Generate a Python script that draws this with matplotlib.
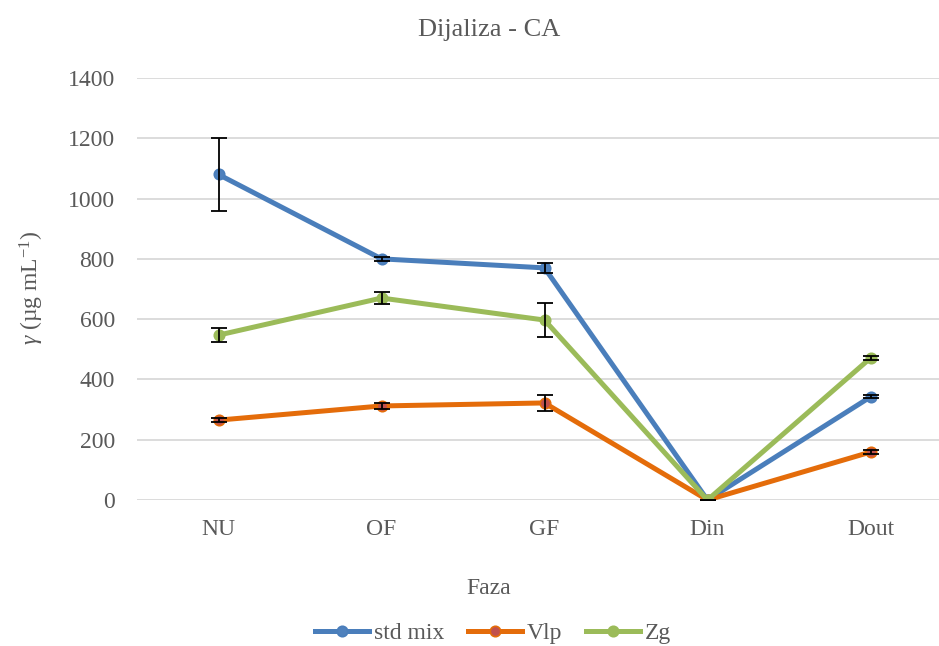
import matplotlib.pyplot as plt

plt.rcParams['font.family'] = 'serif'
plt.rcParams['font.serif'] = ['Liberation Serif', 'Times New Roman', 'DejaVu Serif']
plt.rcParams['mathtext.fontset'] = 'custom'
plt.rcParams['mathtext.rm'] = 'Liberation Serif'
plt.rcParams['mathtext.it'] = 'Liberation Serif:italic'

# Data: concentration per phase, with error bar half-widths
phases = ["NU", "OF", "GF", "Din", "Dout"]
std_mix = [1080, 800, 770, 0, 342]
std_mix_err = [122, 6, 17, 1, 5]
vlp = [265, 312, 322, 0, 159]
vlp_err = [6, 9, 28, 1, 6]
zg = [547, 670, 597, 0, 471]
zg_err = [23, 20, 57, 1, 8]

series = [
    ("std mix", std_mix, std_mix_err, "#4A7EBB", "#4F81BD"),
    ("Vlp", vlp, vlp_err, "#E46C0A", "#C0504D"),
    ("Zg", zg, zg_err, "#9BBB59", "#9BBB59"),
]

text_color = "#595959"

fig = plt.figure(figsize=(9.39, 6.46), dpi=100)
ax = fig.add_axes([137 / 939, 146 / 646, 815 / 939, 422 / 646])

x = list(range(len(phases)))
for name, vals, errs, lc, mc in series:
    ax.plot(x, vals, color=lc, lw=3.6, marker="o", ms=7.5,
            mfc=mc, mec=lc, mew=1.2, label=name, zorder=3)
    ax.errorbar(x, vals, yerr=errs, fmt="none", ecolor="black",
                elinewidth=1.3, capsize=5.5, capthick=1.3, zorder=4)

ax.set_xlim(-0.5, 4.5)
ax.set_ylim(0, 1400)
ax.set_yticks(range(0, 1401, 200))
ax.set_xticks(x)
ax.set_xticklabels(phases)
ax.grid(axis="y", color="#D9D9D9", lw=1.3)
ax.set_axisbelow(True)
for s in ax.spines.values():
    s.set_visible(False)
ax.tick_params(axis="both", length=0, labelsize=17, colors=text_color)
ax.tick_params(axis="x", pad=14)
ax.tick_params(axis="y", pad=16)

fig.text(489 / 939, 1 - 30 / 646, "Dijaliza - CA", ha="center", va="center",
         fontsize=19, color=text_color)
fig.text(489 / 939, 1 - 588 / 646, "Faza", ha="center", va="center",
         fontsize=17, color=text_color)
fig.text(32 / 939, 1 - 288 / 646, r"$\mathit{\gamma}$ (µg mL$^{\mathrm{-1}}$)", ha="center",
         va="center", rotation=90, fontsize=17, color=text_color)

leg = fig.legend(loc="center", bbox_to_anchor=(493 / 939, 1 - 633 / 646),
                 ncol=3, frameon=False, fontsize=17, handlelength=2.3,
                 handletextpad=0.2, columnspacing=1.0, borderaxespad=0)
for t in leg.get_texts():
    t.set_color(text_color)

fig.savefig("out.png", dpi=100)
